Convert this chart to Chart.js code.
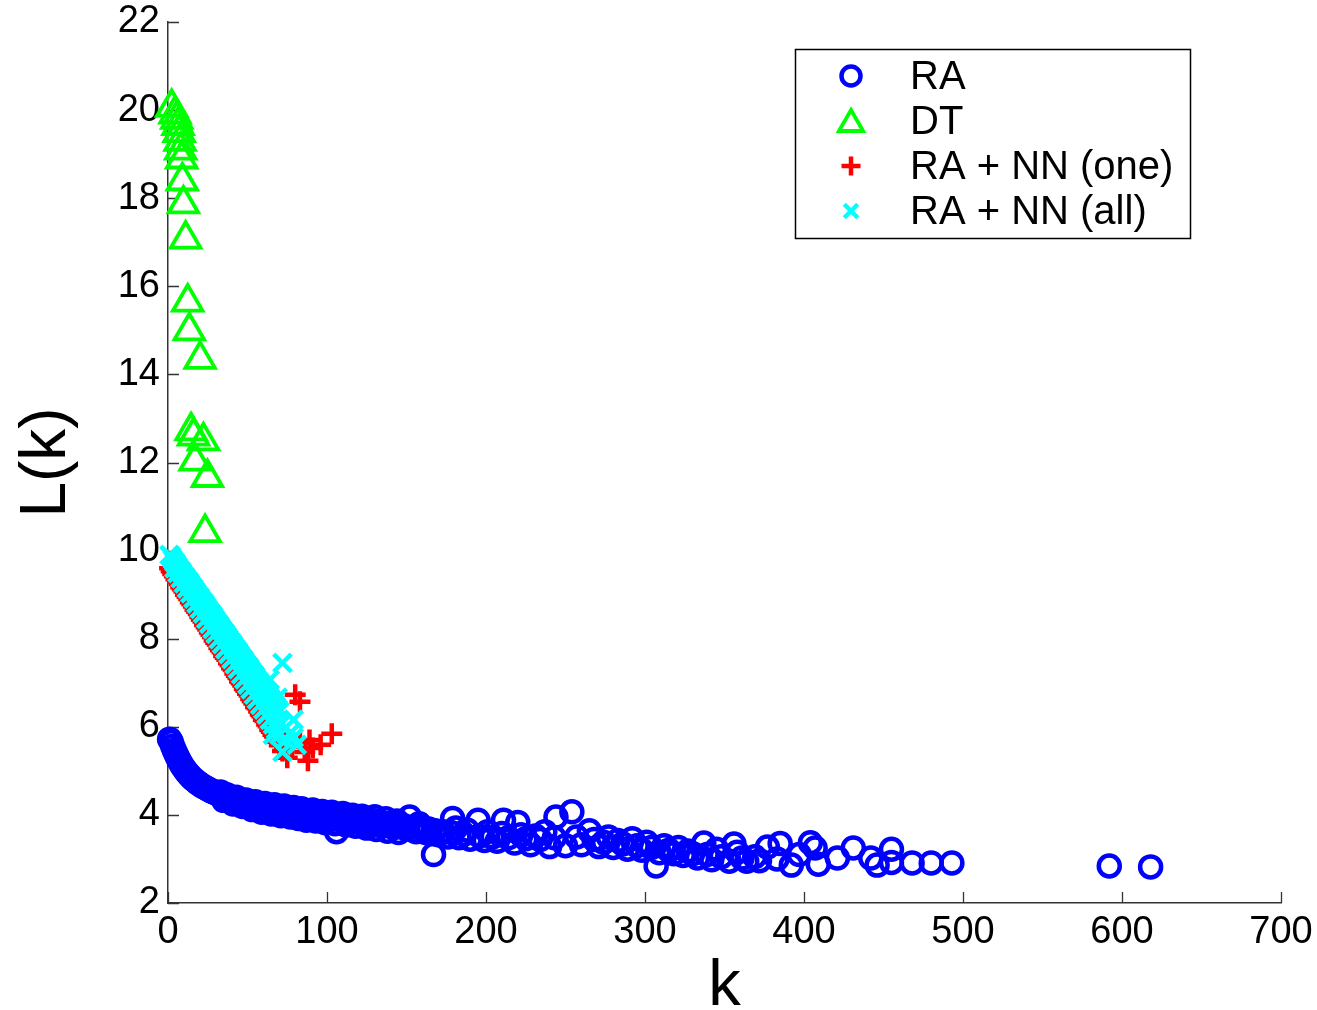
<!DOCTYPE html>
<html>
<head>
<meta charset="utf-8">
<title>L(k)</title>
<script src="https://cdn.jsdelivr.net/npm/chart.js@4.4.1/dist/chart.umd.min.js"></script>
<style>
  html, body { margin: 0; padding: 0; background: #fff; }
  #wrap { width: 1317px; height: 1010px; }
</style>
</head>
<body>
<div id="wrap"><canvas id="lk" width="1317" height="1010"></canvas></div>
<script>
// --- datos ---
const xTicks = [0, 100, 200, 300, 400, 500, 600, 700];
const yTicks = [2, 4, 6, 8, 10, 12, 14, 16, 18, 20, 22];

// RA
const raK = [1, 2, 3, 4, 5, 6, 7, 8, 9, 10, 11, 12, 13, 14, 15, 16, 17, 18, 19, 20,
  21, 22, 23, 24, 25, 26, 27, 28, 29, 30, 32, 33, 34, 35, 36, 37, 38, 39, 40, 42,
  43, 44, 45, 46, 48, 49, 50, 51, 52, 54, 55, 56, 57, 58, 60, 61, 62, 63, 64, 66,
  67, 68, 69, 70, 72, 73, 74, 75, 76, 78, 79, 80, 81, 83, 84, 85, 86, 88, 90, 91,
  92, 94, 96, 97, 98, 100, 102, 103, 104, 106, 107, 109, 110, 111, 113, 115, 116, 117, 119, 121,
  122, 124, 126, 128, 129, 130, 132, 134, 135, 137, 139, 141, 142, 144, 146, 148, 150, 152, 154, 156,
  158, 160, 162, 164, 167, 168, 170, 173, 176, 178, 179, 181, 183, 186, 188, 190, 195, 196, 199, 201,
  204, 207, 210, 211, 214, 218, 220, 222, 225, 228, 231, 234, 237, 240, 243, 244, 250, 254, 257, 260,
  265, 268, 271, 274, 277, 280, 283, 286, 289, 292, 295, 298, 301, 304, 307, 309, 312, 315, 318, 321,
  324, 327, 330, 333, 337, 339, 342, 345, 348, 353, 356, 358, 361, 364, 369, 372, 377, 383, 385, 392,
  397, 404, 407, 409, 421, 431, 442, 446, 455, 455, 468, 480, 493, 592, 618,
  35, 41, 47, 53, 59, 65, 71, 77, 82, 87, 93, 99, 105, 112, 118, 125, 131, 138, 145];
const raL = [5.72, 5.66, 5.56, 5.47, 5.39, 5.31, 5.24, 5.17, 5.11, 5.06, 5.01, 4.96, 4.92, 4.88, 4.84, 4.81, 4.78, 4.75, 4.72, 4.70,
  4.67, 4.65, 4.63, 4.61, 4.59, 4.57, 4.55, 4.53, 4.52, 4.50, 4.47, 4.52, 4.44, 4.40, 4.43, 4.46, 4.39, 4.35, 4.38, 4.35,
  4.40, 4.32, 4.28, 4.31, 4.29, 4.34, 4.27, 4.22, 4.26, 4.24, 4.30, 4.22, 4.16, 4.21, 4.19, 4.26, 4.18, 4.12, 4.17, 4.16,
  4.23, 4.14, 4.09, 4.13, 4.12, 4.20, 4.11, 4.05, 4.10, 4.09, 4.17, 4.08, 4.02, 4.07, 4.14, 4.06, 3.99, 4.05, 4.04, 4.11,
  3.97, 4.02, 4.01, 4.08, 3.94, 3.99, 3.98, 4.06, 3.91, 3.62, 3.96, 3.95, 4.03, 3.88, 3.93, 3.92, 3.99, 3.84, 3.89, 3.90,
  3.97, 3.81, 3.86, 3.88, 3.78, 3.96, 3.84, 3.83, 3.75, 3.91, 3.80, 3.79, 3.71, 3.86, 3.77, 3.76, 3.68, 3.95, 3.72, 3.62,
  3.80, 3.70, 3.60, 3.68, 3.10, 3.64, 3.55, 3.62, 3.50, 3.60, 3.92, 3.70, 3.48, 3.56, 3.66, 3.45, 3.88, 3.52, 3.42, 3.62,
  3.50, 3.40, 3.58, 3.88, 3.48, 3.36, 3.83, 3.55, 3.46, 3.32, 3.52, 3.44, 3.62, 3.28, 3.48, 3.95, 3.30, 4.07, 3.50, 3.32,
  3.64, 3.44, 3.28, 3.38, 3.50, 3.26, 3.42, 3.34, 3.22, 3.46, 3.30, 3.20, 3.38, 3.26, 2.84, 3.14, 3.30, 3.20, 3.12, 3.26,
  3.08, 3.18, 3.12, 3.02, 3.36, 3.10, 2.98, 3.22, 3.05, 2.95, 3.34, 3.15, 3.02, 2.95, 3.05, 2.96, 3.27, 3.00, 3.35, 2.86,
  3.10, 3.37, 3.25, 2.88, 3.02, 3.25, 3.02, 2.86, 3.22, 2.92, 2.91, 2.91, 2.91, 2.84, 2.82,
  4.33, 4.25, 4.19, 4.12, 4.06, 4.02, 3.98, 3.95, 3.92, 3.88, 3.86, 3.82, 3.80, 3.77, 3.74, 3.70, 3.67, 3.63, 3.60];

// DT
const dtK = [2.3, 4.4, 5.5, 6.3, 7.0, 7.6, 8.0, 8.6, 9.0, 9.7, 11.1, 12.4, 13.4, 20.2, 14.5, 16.0, 22.3, 17.0, 24.8, 23.3];
const dtL = [20.06, 19.91, 19.79, 19.65, 19.49, 19.29, 19.09, 18.89, 18.39, 17.87, 17.07, 15.64, 14.99, 14.34, 12.72, 12.60, 12.49, 12.03, 11.66, 10.41];

// RA + NN (one)
const oneK = [1, 2, 3, 4, 5, 6, 7, 8, 9, 10, 11, 12, 13, 14, 15, 16, 17, 18, 19, 20,
  21, 22, 23, 24, 25, 26, 27, 28, 29, 30, 31, 32, 33, 34, 35, 36, 37, 38, 39, 40,
  41, 42, 43, 44, 45, 46, 47, 48, 49, 50, 51, 52, 53, 54, 55, 56, 57, 58, 59, 60,
  61, 62, 63, 64, 65, 66, 67, 68, 69, 70,
  45, 52, 58, 63, 67, 71, 74,
  72, 75, 78, 80, 83, 83, 86, 88, 89, 91, 96, 103];
const oneL = [9.60, 9.53, 9.47, 9.42, 9.35, 9.30, 9.24, 9.17, 9.12, 9.07, 9.00, 8.95, 8.90, 8.83, 8.78, 8.73, 8.66, 8.61, 8.56, 8.49,
  8.43, 8.39, 8.31, 8.26, 8.21, 8.14, 8.09, 8.04, 7.96, 7.91, 7.87, 7.79, 7.74, 7.69, 7.61, 7.57, 7.52, 7.44, 7.40, 7.33,
  7.29, 7.21, 7.16, 7.11, 7.03, 6.99, 6.94, 6.86, 6.82, 6.75, 6.71, 6.63, 6.58, 6.53, 6.45, 6.42, 6.35, 6.28, 6.24, 6.16,
  6.13, 6.05, 6.01, 5.93, 5.89, 5.82, 5.78, 5.70, 5.66, 5.58,
  7.20, 6.85, 6.50, 6.30, 6.05, 5.90, 5.75,
  5.45, 5.30, 5.55, 6.73, 6.57, 5.64, 5.43, 5.23, 5.70, 5.52, 5.59, 5.84];

// RA + NN (all)
const allK = [1, 2, 3, 4, 5, 6, 7, 8, 9, 10, 11, 12, 13, 14, 15, 16, 17, 18, 19, 20,
  21, 22, 23, 24, 25, 26, 27, 28, 29, 30, 31, 32, 33, 34, 35, 36, 37, 38, 39, 40,
  41, 42, 43, 44, 45, 46, 47, 48, 49, 50, 51, 52, 53, 54, 55, 56, 57, 58, 59, 60,
  61, 62, 63, 64, 65, 66, 67, 68, 69, 70,
  4, 6, 8, 10, 12, 14, 16, 18, 20, 22, 24, 26, 28, 30, 32, 34, 36, 38, 40, 42,
  44, 46, 48, 50, 52, 54, 56, 58, 60, 62, 64, 66, 68, 70,
  72, 64, 69, 79, 71, 81, 72, 66, 77, 74, 79];
const allL = [9.90, 9.86, 9.80, 9.74, 9.70, 9.64, 9.58, 9.54, 9.49, 9.43, 9.39, 9.33, 9.29, 9.23, 9.18, 9.14, 9.08, 9.03, 8.97, 8.93,
  8.87, 8.82, 8.78, 8.72, 8.67, 8.61, 8.57, 8.52, 8.46, 8.41, 8.35, 8.31, 8.26, 8.20, 8.15, 8.11, 8.05, 8.00, 7.94, 7.90,
  7.85, 7.79, 7.74, 7.70, 7.64, 7.58, 7.54, 7.49, 7.43, 7.38, 7.34, 7.28, 7.22, 7.18, 7.13, 7.07, 7.02, 6.98, 6.92, 6.87,
  6.81, 6.77, 6.71, 6.65, 6.61, 6.56, 6.50, 6.46, 6.40, 6.35,
  9.60, 9.49, 9.37, 9.26, 9.14, 9.03, 8.91, 8.80, 8.68, 8.57, 8.45, 8.34, 8.22, 8.11, 7.99, 7.88, 7.76, 7.65, 7.54, 7.42,
  7.31, 7.19, 7.08, 6.96, 6.85, 6.73, 6.62, 6.50, 6.39, 6.28, 6.16, 6.05, 5.94, 5.82,
  7.45, 7.07, 6.66, 6.16, 6.09, 5.59, 5.43, 5.82, 5.86, 5.70, 5.75];

const FONT = "'Liberation Sans', Arial, Helvetica, sans-serif";

const series = [
  { label: 'RA', k: raK, l: raL, style: 'circle', color: '#0000ff', r: 10.5, bw: 4.5 },
  { label: 'DT', k: dtK, l: dtL, style: 'triangle', color: '#00ff00', r: 17, bw: 3.8 },
  { label: 'RA + NN (one)', k: oneK, l: oneL, style: 'cross', color: '#ff0000', r: 10.5, bw: 4.5 },
  { label: 'RA + NN (all)', k: allK, l: allL, style: 'crossRot', color: '#00ffff', r: 12.5, bw: 4.5 }
];

const toPts = (ks, ls) => ks.map((k, i) => ({ x: k, y: ls[i] }));

// ticks hacia dentro, estilo matlab
const inwardTicks = {
  id: 'inwardTicks',
  beforeDatasetsDraw(chart) {
    const { ctx, chartArea: a, scales: { x, y } } = chart;
    ctx.save();
    ctx.strokeStyle = '#333';
    ctx.lineWidth = 1.3;
    ctx.beginPath();
    xTicks.forEach(v => {
      const px = Math.round(x.getPixelForValue(v)) + 0.5;
      ctx.moveTo(px, a.bottom);
      ctx.lineTo(px, a.bottom - 11);
    });
    yTicks.forEach(v => {
      const py = Math.round(y.getPixelForValue(v)) + 0.5;
      ctx.moveTo(a.left, py);
      ctx.lineTo(a.left + 11, py);
    });
    ctx.stroke();
    ctx.restore();
  }
};

// leyenda con caja, dentro del area
const legendBox = {
  id: 'legendBox',
  afterDraw(chart) {
    const ctx = chart.ctx;
    const bx = 795, by = 49, bw = 395, bh = 189;
    ctx.save();
    ctx.fillStyle = '#fff';
    ctx.fillRect(bx, by, bw, bh);
    ctx.strokeStyle = '#000';
    ctx.lineWidth = 1.5;
    ctx.strokeRect(bx + 0.5, by + 0.5, bw, bh);
    series.forEach((s, i) => {
      const yy = by + 27 + i * 45;
      ctx.strokeStyle = s.color;
      ctx.fillStyle = 'rgba(0,0,0,0)';
      ctx.lineWidth = s.bw;
      const mr = s.style === 'triangle' ? 14 : 9.5;
      Chart.helpers.drawPoint(ctx, { pointStyle: s.style, radius: mr, borderWidth: s.bw, rotation: 0 },
        bx + 56, s.style === 'triangle' ? yy + 3 : yy);
      ctx.fillStyle = '#000';
      ctx.font = '40px ' + FONT;
      ctx.textBaseline = 'middle';
      ctx.textAlign = 'left';
      ctx.fillText(s.label, bx + 115, yy + 2);
    });
    ctx.restore();
  }
};

new Chart(document.getElementById('lk'), {
  type: 'scatter',
  data: {
    datasets: series.map((s, i) => ({
      label: s.label,
      data: toPts(s.k, s.l),
      pointStyle: s.style,
      pointRadius: s.r,
      pointHoverRadius: s.r,
      pointBorderWidth: s.bw,
      borderColor: s.color,
      backgroundColor: 'rgba(0,0,0,0)',
      order: series.length - i,
      clip: false
    }))
  },
  options: {
    responsive: false,
    animation: false,
    devicePixelRatio: 1,
    events: [],
    layout: { padding: { left: 0, right: 36, top: 22, bottom: 0 } },
    plugins: { legend: { display: false }, tooltip: { enabled: false } },
    scales: {
      x: {
        type: 'linear',
        min: 0,
        max: 700,
        afterBuildTicks: s => { s.ticks = xTicks.map(v => ({ value: v })); },
        afterFit: s => { s.height = 107; s.paddingLeft = 0; s.paddingRight = 0; },
        grid: { display: false, drawTicks: false },
        border: { display: true, color: '#333', width: 1.5 },
        ticks: { color: '#000', padding: 11, maxRotation: 0, font: { family: FONT, size: 38, lineHeight: 1 } },
        title: { display: true, text: 'k', color: '#000', padding: { top: 0, bottom: 0 },
                 font: { family: FONT, size: 65, lineHeight: 0.7 } }
      },
      y: {
        type: 'linear',
        min: 2,
        max: 22,
        afterBuildTicks: s => { s.ticks = yTicks.map(v => ({ value: v })); },
        afterFit: s => { s.width = 168; s.paddingTop = 0; s.paddingBottom = 0; },
        grid: { display: false, drawTicks: false },
        border: { display: true, color: '#333', width: 1.5 },
        ticks: { color: '#000', padding: 8, font: { family: FONT, size: 38, lineHeight: 1 } },
        title: { display: true, text: 'L(k)', color: '#000', padding: { top: 22, bottom: 0 },
                 font: { family: FONT, size: 64, lineHeight: 0.8 } }
      }
    }
  },
  plugins: [inwardTicks, legendBox]
});
</script>
</body>
</html>
